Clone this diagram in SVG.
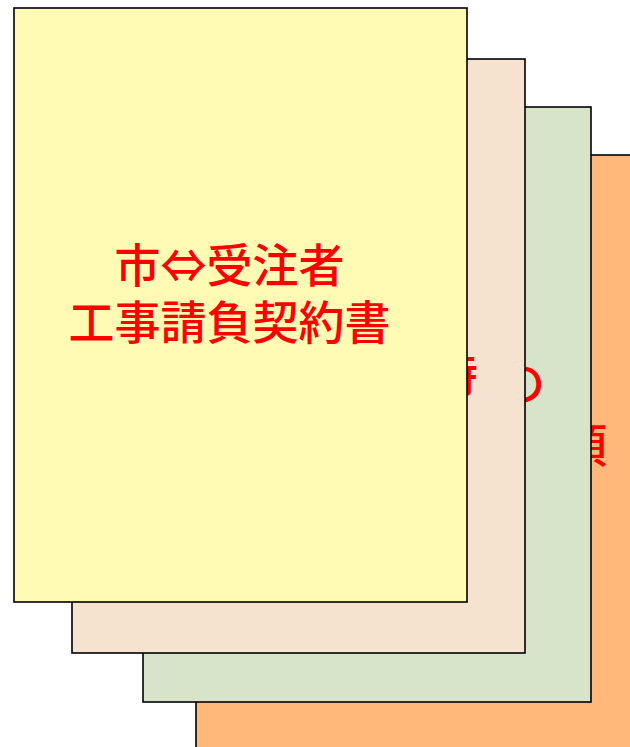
<svg xmlns="http://www.w3.org/2000/svg" width="630" height="747" viewBox="0 0 630 747">
  <style>
    .card { stroke: #000; stroke-width: 1.6; }
    .t { font-family: "Noto Sans CJK JP", "Noto Sans", sans-serif; font-size: 46px; font-weight: 500; fill: #FF0000; }
  </style>
  <rect width="630" height="747" fill="#FFFFFF"/>
  <g id="card4">
    <rect class="card" x="196" y="155" width="453" height="594" fill="#FFB87A"/>
    <text class="t" x="561" y="462">項</text>
  </g>
  <g id="card3">
    <rect class="card" x="143" y="107" width="448" height="595" fill="#D8E4CA"/>
    <text class="t" x="499" y="400">の</text>
  </g>
  <g id="card2">
    <rect class="card" x="72" y="59" width="453" height="594" fill="#F5E3D0"/>
    <text class="t" x="432" y="391">特</text>
  </g>
  <g id="card1">
    <rect class="card" x="14" y="8" width="453" height="594" fill="#FFFAB4"/>
    <text class="t" x="229.5" y="282" text-anchor="middle">市⇔受注者</text>
    <text class="t" x="229.5" y="339" text-anchor="middle" font-size="46.5">工事請負契約書</text>
  </g>
</svg>
